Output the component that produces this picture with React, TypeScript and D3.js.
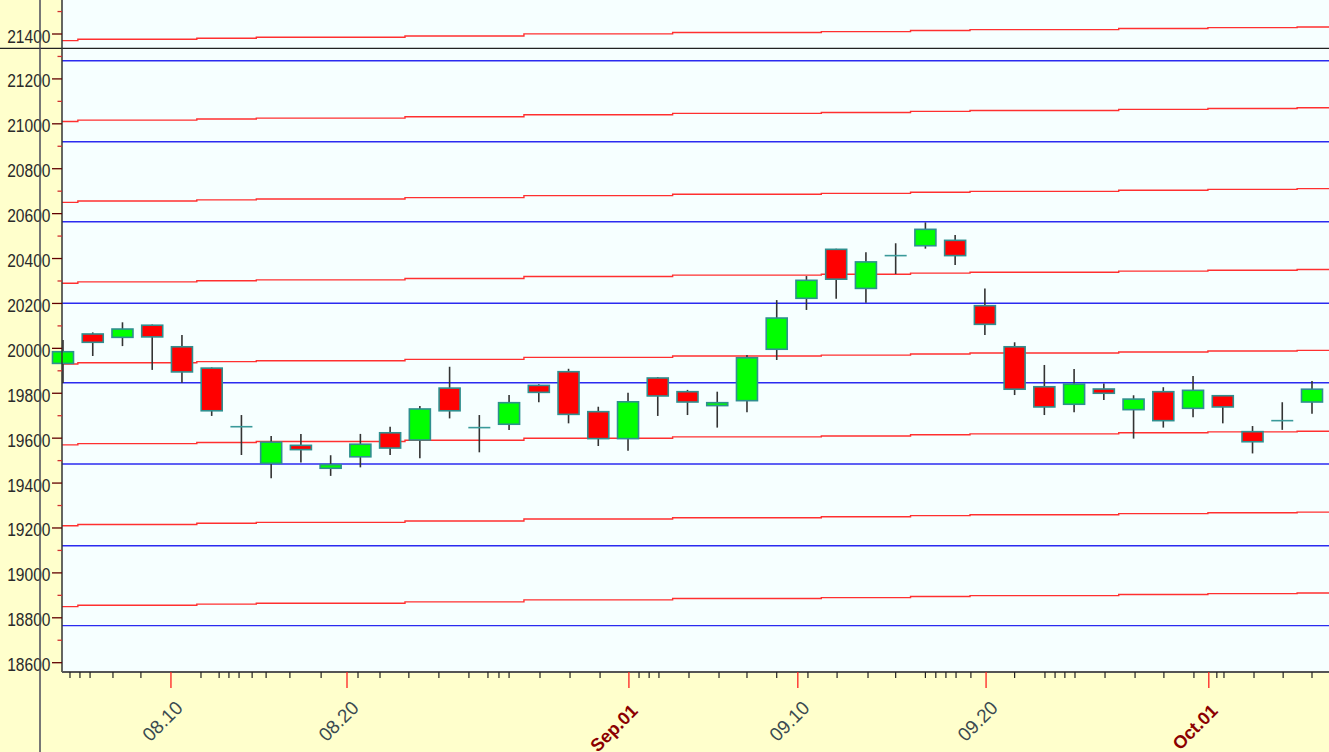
import React, { useEffect } from 'react';
import * as d3 from 'd3';

const W = 1329;
const H = 752;

// ---- candle data (one per trading day) ----
const open = [19933, 20064, 20049, 20103, 20007, 19912, 19651, 19488, 19568, 19466, 19517, 19624, 19592, 19823, 19647, 19662, 19835, 19896, 19718, 19598, 19868, 19807, 19745, 19767, 19996, 20223, 20441, 20267, 20413, 20457, 20481, 20190, 20007, 19829, 19751, 19819, 19727, 19807, 19733, 19789, 19629, 19678, 19761];
const high = [20037, 20071, 20116, 20106, 20059, 19915, 19703, 19610, 19619, 19524, 19619, 19651, 19743, 19918, 19703, 19792, 19840, 19909, 19740, 19802, 19872, 19815, 19807, 19970, 20215, 20322, 20444, 20428, 20468, 20561, 20505, 20266, 20027, 19926, 19908, 19844, 19791, 19827, 19877, 19791, 19654, 19760, 19855];
const low = [19846, 19966, 20010, 19904, 19847, 19699, 19525, 19421, 19492, 19432, 19470, 19525, 19510, 19688, 19537, 19636, 19760, 19666, 19565, 19544, 19699, 19703, 19647, 19715, 19948, 20171, 20221, 20203, 20331, 20444, 20371, 20059, 19792, 19703, 19715, 19770, 19598, 19647, 19693, 19666, 19532, 19637, 19709];
const close = [19985, 20027, 20086, 20051, 19895, 19722, 19651, 19582, 19549, 19482, 19573, 19556, 19730, 19722, 19647, 19758, 19804, 19706, 19598, 19762, 19788, 19761, 19758, 19958, 20135, 20303, 20308, 20385, 20413, 20530, 20413, 20107, 19818, 19739, 19841, 19800, 19774, 19678, 19813, 19739, 19584, 19678, 19818];

// ---- rising (red) channel: base value per day, repeated every channelStep ----
const redBase = [19930, 19936, 19936, 19936, 19936, 19941, 19941, 19945, 19945, 19945, 19945, 19945, 19951, 19951, 19951, 19951, 19960, 19960, 19960, 19960, 19960, 19966, 19966, 19966, 19966, 19966, 19970, 19970, 19970, 19975, 19975, 19979, 19979, 19979, 19979, 19979, 19984, 19984, 19984, 19988, 19988, 19988, 19991];
const redMultiples = [4, 3, 2, 1, 0, -1, -2, -3];
const channelStep = 360.1;

// ---- flat (blue) levels ----
const blueLevels = [21281, 20920, 20564, 20201, 19847, 19485, 19121, 18765];

// ---- axis ticks ----
const yMajor = [18600, 18800, 19000, 19200, 19400, 19600, 19800, 20000, 20200, 20400, 20600, 20800, 21000, 21200, 21400];
const yMinor = [18700, 18900, 19100, 19300, 19500, 19700, 19900, 20100, 20300, 20500, 20700, 20900, 21100, 21300, 21500];
const dayTicks = [0.235, 0.57, 0.91, 1.68, 2.62, 4.64, 5.25, 5.58, 5.92, 6.36, 6.83, 7.63, 8.68, 9.92, 10.66, 11.63, 12.64, 13.65, 14.29, 14.66, 15.0, 16.04, 17.05, 18.06, 19.37, 19.71, 20.04, 21.05, 22.06, 23.0, 24.0, 25.05, 26.03, 27.07, 28.0, 29.0, 29.35, 29.69, 30.03, 30.53, 32.0, 33.02, 33.36, 33.69, 34.03, 35.04, 36.05, 37.02, 38.03, 38.8, 39.04, 40.05, 41.03, 42.0];
const dateLabels = ['08.10', '08.20', 'Sep.01', '09.10', '09.20', 'Oct.01'];
const datePositions = [3.63, 9.55, 19.03, 24.71, 31.04, 38.53];
const dateIsMonth = [false, false, true, false, false, true];

const cursorPrice = 21336;

const PL = 62;
const PB = 672;

export default function App() {
  useEffect(() => {
    document.body.style.margin = '0';
  }, []);

  const x = d3.scaleLinear().domain([0, 42]).range([63, 1312]);
  const y = d3.scaleLinear().domain([18600, 21400]).range([662.7, 34]);

  const xLeft = x.invert(PL);
  const xRight = x.invert(W);

  const redPts: [number, number][] = [[xLeft, redBase[0]], ...redBase.map((v, i) => [i, v] as [number, number]), [xRight, redBase[redBase.length - 1]]];
  const redLine = (k: number) =>
    d3.line<[number, number]>().x((d) => x(d[0])).y((d) => y(d[1] + k * channelStep)).curve(d3.curveStep)(redPts) || '';

  const bodyW = 21;

  return (
    <svg width={W} height={H} style={{ position: 'fixed', left: 0, top: 0, display: 'block' }} fontFamily="Liberation Sans, Arial, sans-serif">
      <rect x={0} y={0} width={W} height={H} fill="#FFFFCC" />
      <rect x={PL} y={0} width={W - PL} height={PB} fill="#F6FFFF" />

      {/* blue levels */}
      {blueLevels.map((v, i) => (
        <line key={'b' + i} x1={PL} x2={W} y1={y(v)} y2={y(v)} stroke="#2B2BF0" strokeWidth={1.4} />
      ))}
      {/* red channel */}
      {redMultiples.map((k) => (
        <path key={'r' + k} d={redLine(k)} fill="none" stroke="#FF3030" strokeWidth={1.4} />
      ))}

      {/* cursor lines */}
      <line x1={0} x2={W} y1={y(cursorPrice)} y2={y(cursorPrice)} stroke="#222" strokeWidth={1.4} />

      {/* candles */}
      {open.map((o, i) => {
        const c = close[i];
        const cx = x(i);
        const doji = o === c;
        const top = y(Math.max(o, c));
        const bot = y(Math.min(o, c));
        return (
          <g key={'c' + i}>
            <line x1={cx} x2={cx} y1={y(high[i])} y2={y(low[i])} stroke="#333" strokeWidth={1.6} />
            {doji ? (
              <line x1={cx - bodyW / 2 - 0.5} x2={cx + bodyW / 2 + 0.5} y1={top} y2={top} stroke="#3A9A9A" strokeWidth={1.6} />
            ) : (
              <rect x={cx - bodyW / 2} y={top} width={bodyW} height={Math.max(bot - top, 2)} fill={c > o ? '#00FF00' : '#FF0000'} stroke="#2F8F8F" strokeWidth={1.6} />
            )}
          </g>
        );
      })}

      {/* y axis */}
      <line x1={PL} x2={PL} y1={0} y2={PB} stroke="#333" strokeWidth={1.5} />
      {yMinor.map((v) => (
        <line key={'ym' + v} x1={PL - 4.5} x2={PL} y1={y(v)} y2={y(v)} stroke="#D03030" strokeWidth={1.3} />
      ))}
      {yMajor.map((v) => (
        <g key={'yM' + v}>
          <line x1={PL - 10} x2={PL} y1={y(v)} y2={y(v)} stroke="#600000" strokeWidth={1.3} />
          <text transform={`translate(50.5, ${y(v) + 8.5}) scale(0.82, 1)`} textAnchor="end" fontSize={19} fill="#2A2A2A">
            {d3.format('d')(v)}
          </text>
        </g>
      ))}

      {/* x axis */}
      <line x1={PL} x2={W} y1={PB} y2={PB} stroke="#555" strokeWidth={2} />
      {dayTicks.map((t, i) => (
        <line key={'xt' + i} x1={x(t)} x2={x(t)} y1={PB} y2={PB + 6} stroke="#222" strokeWidth={1.2} />
      ))}
      {datePositions.map((t, i) => (
        <g key={'xl' + i}>
          <line x1={x(t)} x2={x(t)} y1={PB} y2={PB + 16} stroke="#FF2020" strokeWidth={1.3} />
          <text
            transform={`translate(${x(t) + (dateIsMonth[i] ? 10 : 13)}, ${dateIsMonth[i] ? 712 : 709}) rotate(-45)`}
            textAnchor="end"
            fontSize={dateIsMonth[i] ? 18 : 19}
            fontWeight={dateIsMonth[i] ? 'bold' : 'normal'}
            fill={dateIsMonth[i] ? '#8B0000' : '#3A4A50'}
          >
            {dateLabels[i]}
          </text>
        </g>
      ))}

      {/* vertical cursor */}
      <line x1={40} x2={40} y1={0} y2={H} stroke="#4A4A5A" strokeWidth={1.5} />
    </svg>
  );
}
